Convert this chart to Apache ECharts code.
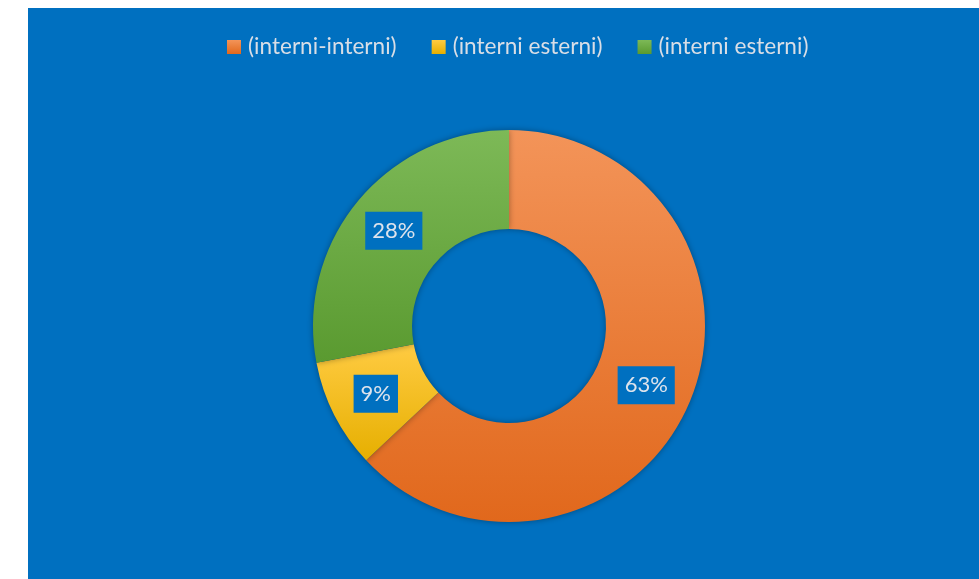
<!DOCTYPE html>
<html>
<head>
<meta charset="utf-8">
<script src="https://cdn.jsdelivr.net/npm/echarts@6/dist/echarts.min.js"></script>
<style>
html,body{margin:0;padding:0;background:#fff;}
#chart{width:979px;height:579px;}
</style>
</head>
<body>
<div id="chart"></div>
<script>
const categories = ['(interni-interni)', '(interni esterni)', '(interni esterni) '];
const values = [63, 9, 28];
const labels = ['63%', '9%', '28%'];
const topColors = ['#F39459', '#FFCB42', '#7DB957'];
const bottomColors = ['#E1681C', '#E6AF00', '#5A9A30'];

const chart = echarts.init(document.getElementById('chart'), null, {renderer: 'canvas'});
const data = categories.map((c, i) => ({
  name: c,
  value: values[i],
  label: {formatter: labels[i]},
  itemStyle: {
    color: new echarts.graphic.LinearGradient(0, 0, 0, 1, [
      {offset: 0, color: topColors[i]},
      {offset: 1, color: bottomColors[i]}
    ])
  }
}));

chart.setOption({
  backgroundColor: '#ffffff',
  animation: false,
  graphic: [{
    type: 'rect', z: -10, silent: true,
    shape: {x: 28, y: 8, width: 951, height: 571},
    style: {fill: '#0070C0'}
  }],
  legend: {
    top: 30,
    left: 222,
    itemWidth: 14,
    itemHeight: 14,
    itemGap: 35,
    icon: 'rect',
    textStyle: {color: '#D9DEE6', fontSize: 22.6, fontFamily: 'Lato', lineHeight: 24, padding: [0, 0, 0, 2]},
    data: categories
  },
  series: [{
    type: 'pie',
    center: [509, 326],
    radius: [97, 196],
    startAngle: 90,
    clockwise: true,
    avoidLabelOverlap: false,
    itemStyle: {
      shadowBlur: 6,
      shadowColor: 'rgba(0,0,0,0.35)'
    },
    label: {
      show: true,
      position: 'inside',
      color: '#DDE3EC',
      fontSize: 22,
      fontFamily: 'Lato',
      lineHeight: 22,
      backgroundColor: '#0070C0',
      padding: [9, 7, 7, 7]
    },
    labelLine: {show: false},
    emphasis: {disabled: true},
    data: data
  }]
});
</script>
</body>
</html>
